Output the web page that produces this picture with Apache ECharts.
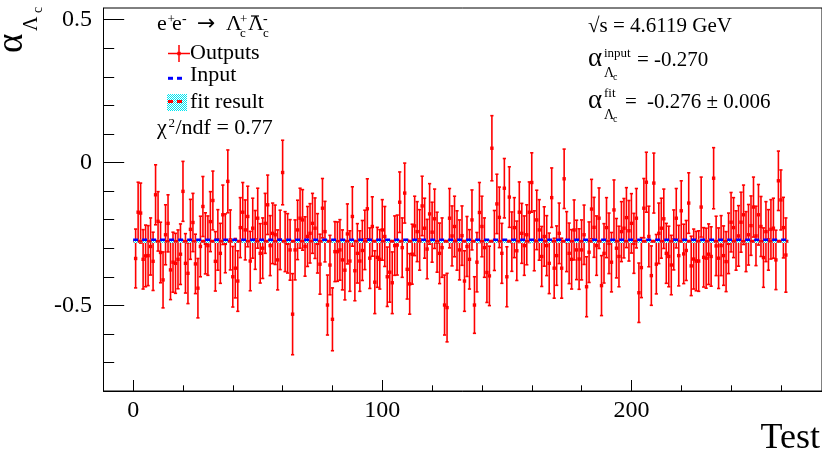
<!DOCTYPE html>
<html><head><meta charset="utf-8">
<script src="https://cdn.jsdelivr.net/npm/echarts@6/dist/echarts.min.js"></script>
<style>html,body{margin:0;padding:0;background:#fff}#c{width:822px;height:454px}</style>
</head><body><div id="c"></div>
<script>
// ---- data ----
const alphaValues = [
-0.336,-0.174,-0.177,-0.339,-0.327,-0.326,-0.294,-0.346,-0.113,-0.206,
-0.315,-0.411,-0.253,-0.213,-0.376,-0.349,-0.353,-0.339,-0.321,-0.101,
-0.353,-0.388,-0.234,-0.210,-0.355,-0.440,-0.294,-0.154,-0.283,-0.291,
-0.207,-0.133,-0.346,-0.271,-0.318,-0.183,-0.283,-0.066,-0.271,-0.400,
-0.370,-0.415,-0.228,-0.174,-0.236,-0.189,-0.345,-0.230,-0.271,-0.195,
-0.318,-0.300,-0.213,-0.148,-0.291,-0.248,-0.253,-0.341,-0.271,-0.035,
-0.277,-0.283,-0.306,-0.531,-0.306,-0.236,-0.195,-0.201,-0.294,-0.259,
-0.248,-0.213,-0.230,-0.283,-0.356,-0.160,-0.242,-0.499,-0.359,-0.549,
-0.312,-0.312,-0.306,-0.341,-0.377,-0.250,-0.345,-0.189,-0.379,-0.318,
-0.345,-0.308,-0.271,-0.162,-0.335,-0.224,-0.419,-0.332,-0.339,-0.236,
-0.259,-0.400,-0.384,-0.421,-0.291,-0.289,-0.139,-0.298,-0.107,-0.374,
-0.425,-0.321,-0.222,-0.242,-0.271,-0.152,-0.230,-0.303,-0.180,-0.244,
-0.197,-0.279,-0.318,-0.298,-0.499,-0.508,-0.195,-0.257,-0.224,-0.273,
-0.306,-0.256,-0.415,-0.294,-0.339,-0.201,-0.499,-0.349,-0.175,-0.224,
-0.298,-0.385,-0.397,0.050,-0.273,-0.145,-0.192,-0.318,-0.090,-0.400,
-0.121,-0.277,-0.228,-0.309,-0.174,-0.248,-0.291,-0.253,-0.174,-0.070,
-0.274,-0.201,-0.236,-0.329,-0.259,-0.291,-0.353,-0.123,-0.370,-0.326,
-0.248,-0.370,-0.057,-0.277,-0.318,-0.339,-0.236,-0.306,-0.338,-0.306,
-0.253,-0.435,-0.314,-0.163,-0.227,-0.291,-0.195,-0.431,-0.318,-0.228,
-0.283,-0.349,-0.166,-0.300,-0.329,-0.242,-0.230,-0.193,-0.239,-0.213,
-0.283,-0.195,-0.456,-0.368,-0.160,-0.069,-0.259,-0.396,-0.072,-0.356,
-0.248,-0.230,-0.197,-0.318,-0.329,-0.359,-0.271,-0.195,-0.326,-0.169,
-0.320,-0.308,-0.142,-0.362,-0.338,-0.345,-0.345,-0.156,-0.332,-0.335,
-0.321,-0.329,-0.055,-0.292,-0.335,-0.291,-0.326,-0.347,-0.283,-0.209,
-0.228,-0.273,-0.257,-0.209,-0.183,-0.277,-0.253,-0.221,-0.156,-0.257,
-0.183,-0.224,-0.333,-0.242,-0.271,-0.234,-0.230,-0.341,-0.064,-0.131,
-0.228,-0.324
];
const alphaErrors = [
0.103,0.105,0.105,0.104,0.108,0.105,0.100,0.102,0.105,0.104,
0.106,0.098,0.105,0.100,0.104,0.105,0.105,0.103,0.106,0.105,
0.104,0.106,0.105,0.102,0.104,0.104,0.106,0.105,0.107,0.104,
0.105,0.103,0.104,0.106,0.105,0.104,0.103,0.110,0.105,0.106,
0.104,0.106,0.105,0.104,0.105,0.106,0.104,0.105,0.103,0.105,
0.104,0.106,0.105,0.104,0.105,0.106,0.104,0.105,0.104,0.113,
0.105,0.104,0.106,0.142,0.105,0.104,0.105,0.106,0.104,0.105,
0.104,0.105,0.106,0.104,0.105,0.104,0.106,0.105,0.104,0.110,
0.105,0.104,0.106,0.105,0.104,0.105,0.106,0.104,0.105,0.104,
0.106,0.105,0.104,0.105,0.106,0.104,0.110,0.105,0.104,0.106,
0.105,0.104,0.105,0.108,0.104,0.105,0.106,0.104,0.105,0.104,
0.106,0.105,0.104,0.105,0.106,0.104,0.105,0.104,0.106,0.105,
0.104,0.105,0.106,0.104,0.105,0.120,0.104,0.105,0.106,0.104,
0.105,0.104,0.106,0.105,0.104,0.105,0.099,0.104,0.105,0.106,
0.104,0.105,0.104,0.114,0.105,0.104,0.106,0.105,0.104,0.105,
0.106,0.104,0.105,0.104,0.106,0.105,0.104,0.105,0.106,0.104,
0.105,0.104,0.106,0.105,0.104,0.105,0.106,0.104,0.105,0.104,
0.106,0.105,0.104,0.105,0.106,0.104,0.105,0.104,0.106,0.105,
0.104,0.105,0.106,0.104,0.105,0.104,0.106,0.105,0.104,0.105,
0.106,0.104,0.105,0.104,0.106,0.105,0.104,0.105,0.106,0.104,
0.105,0.104,0.104,0.105,0.104,0.105,0.106,0.104,0.105,0.104,
0.106,0.105,0.104,0.105,0.106,0.104,0.105,0.104,0.106,0.105,
0.104,0.105,0.106,0.104,0.105,0.104,0.106,0.105,0.104,0.105,
0.106,0.104,0.107,0.104,0.106,0.105,0.104,0.105,0.106,0.104,
0.105,0.104,0.106,0.105,0.104,0.105,0.106,0.104,0.105,0.104,
0.106,0.105,0.104,0.105,0.106,0.104,0.105,0.104,0.104,0.105,
0.106,0.130
];
const firstTest = 1;           // tests are numbered 1..N
const inputAlpha = -0.270;
const fitAlpha = -0.276;
const fitError = 0.006;
const lineRange = [0, 263];
const xMajorTicks = [0, 100, 200];
const xMinorTicks = [20, 40, 60, 80, 120, 140, 160, 180, 220, 240, 260];
const yMajorTicks = [-0.5, 0, 0.5];
const yMinorTicks = [-0.7, -0.6, -0.4, -0.3, -0.2, -0.1, 0.1, 0.2, 0.3, 0.4];

// ---- chart ----
const SERIF = 'Liberation Serif';
const pointData = alphaValues.map((v, i) => [firstTest + i, v, alphaErrors[i]]);

const pc = document.createElement('canvas');
pc.width = 2; pc.height = 2;
const pctx = pc.getContext('2d');
pctx.fillStyle = '#ffffff'; pctx.fillRect(0, 0, 2, 2);
pctx.fillStyle = '#00e5f0'; pctx.fillRect(0, 0, 1, 1); pctx.fillRect(1, 1, 1, 1);
const cyanPattern = { image: pc, repeat: 'repeat' };

function T(x, base, text, size, extra, family) {
  return {
    type: 'text', x: x, y: base - 0.3375 * size, z: 100,
    style: Object.assign({ text: text, font: size + 'px "' + (family || SERIF) + '"', fill: '#000',
      align: 'left', verticalAlign: 'middle' }, extra || {})
  };
}
function L(x1, y1, x2, y2, color, w, dash) {
  return { type: 'line', z: 100, shape: { x1, y1, x2, y2 },
    style: { stroke: color, lineWidth: w, lineDash: dash || null } };
}

const X_MIN = -11.9, X_MAX = 276.5, Y_MIN = -0.8, Y_MAX = 0.541;
const axisCommon = { type: 'value', splitLine: { show: false } };

const option = {
  animation: false,
  backgroundColor: '#fff',
  textStyle: { fontFamily: SERIF },
  grid: { left: 103.5, right: -2, top: 8, bottom: 63, show: true, borderColor: '#000', borderWidth: 1, backgroundColor: 'transparent' },
  xAxis: [
    Object.assign({}, axisCommon, { min: X_MIN, max: X_MAX, position: 'bottom',
      axisLine: { show: true, onZero: false, lineStyle: { color: '#000', width: 1 } },
      axisTick: { show: true, inside: true, length: 11, customValues: xMajorTicks, lineStyle: { color: '#000', width: 1 } },
      axisLabel: { show: true, customValues: xMajorTicks, margin: 8, color: '#000', fontFamily: SERIF, fontSize: 24 } }),
    Object.assign({}, axisCommon, { min: X_MIN, max: X_MAX, position: 'bottom', offset: 0,
      axisLine: { show: false, onZero: false },
      axisTick: { show: true, inside: true, length: 5.7, customValues: xMinorTicks, lineStyle: { color: '#000', width: 1 } },
      axisLabel: { show: false } })
  ],
  yAxis: [
    Object.assign({}, axisCommon, { min: Y_MIN, max: Y_MAX, position: 'left',
      axisLine: { show: true, onZero: false, lineStyle: { color: '#000', width: 1 } },
      axisTick: { show: true, inside: true, length: 20.7, customValues: yMajorTicks, lineStyle: { color: '#000', width: 1 } },
      axisLabel: { show: true, customValues: yMajorTicks, margin: 11.5, color: '#000', fontFamily: SERIF, fontSize: 24,
        formatter: v => (Math.abs(v) < 1e-9 ? '0' : String(v)) } }),
    Object.assign({}, axisCommon, { min: Y_MIN, max: Y_MAX, position: 'left', offset: 0,
      axisLine: { show: false, onZero: false },
      axisTick: { show: true, inside: true, length: 10.7, customValues: yMinorTicks, lineStyle: { color: '#000', width: 1 } },
      axisLabel: { show: false } })
  ],
  series: [
    {
      type: 'custom', xAxisIndex: 0, yAxisIndex: 0, z: 2, clip: true,
      data: pointData,
      renderItem: function (params, api) {
        const x = api.value(0), y = api.value(1), e = api.value(2);
        const p = api.coord([x, y]);
        const t = api.coord([x, y + e]);
        const b = api.coord([x, y - e]);
        const st = { stroke: '#ff0000', lineWidth: 1.6 };
        return { type: 'group', children: [
          { type: 'line', shape: { x1: p[0], y1: t[1], x2: p[0], y2: b[1] }, style: st },
          { type: 'line', shape: { x1: p[0] - 1.6, y1: t[1], x2: p[0] + 1.6, y2: t[1] }, style: st },
          { type: 'line', shape: { x1: p[0] - 1.6, y1: b[1], x2: p[0] + 1.6, y2: b[1] }, style: st },
          { type: 'rect', shape: { x: p[0] - 1.7, y: p[1] - 1.7, width: 3.4, height: 3.4 }, style: { fill: '#ff0000' } }
        ] };
      }
    },
    {
      type: 'custom', xAxisIndex: 0, yAxisIndex: 0, z: 3, clip: true,
      data: [[lineRange[0], lineRange[1], fitAlpha - fitError, fitAlpha + fitError]],
      renderItem: function (params, api) {
        const a = api.coord([api.value(0), api.value(3)]);
        const b = api.coord([api.value(1), api.value(2)]);
        return { type: 'rect', shape: { x: a[0], y: a[1], width: b[0] - a[0], height: b[1] - a[1] },
          style: { fill: cyanPattern } };
      }
    },
    {
      type: 'line', xAxisIndex: 0, yAxisIndex: 0, z: 4, symbol: 'none', silent: true,
      data: [[lineRange[0], fitAlpha], [lineRange[1], fitAlpha]],
      lineStyle: { color: '#ff0000', width: 3, type: [5, 4], dashOffset: 4.5 }
    },
    {
      type: 'line', xAxisIndex: 0, yAxisIndex: 0, z: 5, symbol: 'none', silent: true,
      data: [[lineRange[0], inputAlpha], [lineRange[1], inputAlpha]],
      lineStyle: { color: '#0000ff', width: 2.5, type: [5, 4] }
    }
  ],
  graphic: { elements: [
    // y-axis title (rotated)
    { type: 'group', x: 25, y: 53, rotation: Math.PI / 2, z: 100, children: [
      T(0, 0, 'α', 37),
      T(22, 13, 'Λ', 20),
      T(40, 18.5, 'c', 14)
    ] },
    // x-axis title
    T(820, 451, 'Test', 36, { align: 'right' }),
    // legend header
    T(157, 32, 'e', 22), T(167.5, 24, '+', 13), T(172, 32, 'e', 22), T(182, 24, '-', 14),
    T(197, 32, '→', 22, null, 'DejaVu Sans'),
    T(226, 32, 'Λ', 22), T(240, 24, '+', 13), T(240, 37.5, 'c', 13),
    T(248, 32, 'Λ', 22), L(251, 16, 259, 16, '#000', 1.2), T(263, 24, '-', 14), T(263, 37.5, 'c', 13),
    // Outputs entry
    L(168, 53.5, 190, 53.5, '#ff0000', 1.5), L(179, 45, 179, 62, '#ff0000', 1.5),
    { type: 'rect', z: 100, shape: { x: 177.3, y: 51.8, width: 3.4, height: 3.4 }, style: { fill: '#ff0000' } },
    T(190, 61, 'Outputs', 22),
    // Input entry
    L(168, 78.3, 173, 78.3, '#0000ff', 3), L(177, 78.3, 182, 78.3, '#0000ff', 3),
    T(190, 83, 'Input', 22),
    // fit result entry
    { type: 'rect', z: 100, shape: { x: 167, y: 94, width: 20, height: 17 }, style: { fill: cyanPattern } },
    L(168, 101.5, 173, 101.5, '#ff0000', 3), L(177, 101.5, 182, 101.5, '#ff0000', 3),
    T(190, 110, 'fit result', 22),
    // chi2
    T(157, 136, 'χ', 22), T(168.5, 128, '2', 13), T(175.5, 136, '/ndf = 0.77', 22),
    // right annotations
    T(588, 34, '√s = 4.6119 GeV', 21),
    T(588, 68, 'α', 27), T(604, 58, 'input', 13), T(604, 78, 'Λ', 14), T(613, 81, 'c', 10),
    T(637, 68, '= -0.270', 21),
    T(588, 110, 'α', 27), T(604, 98, 'fit', 13), T(604, 120, 'Λ', 14), T(613, 123, 'c', 10),
    T(625, 110, '=', 21), T(647, 110, '-0.276 ± 0.006', 21)
  ] }
};

const chart = echarts.init(document.getElementById('c'), null, { renderer: 'canvas', width: 822, height: 454 });
chart.setOption(option);
</script>
</body></html>
